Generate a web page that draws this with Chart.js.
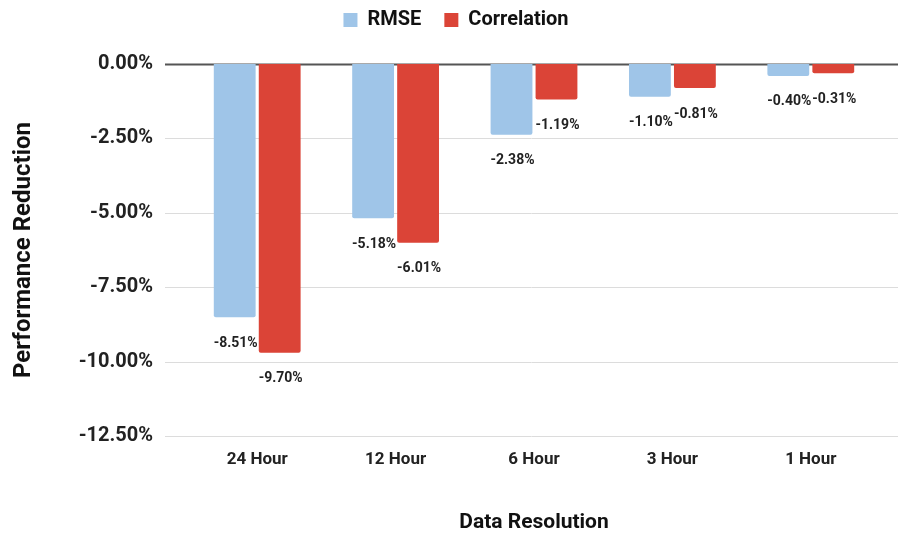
<!DOCTYPE html>
<html>
<head>
<meta charset="utf-8">
<script src="https://cdn.jsdelivr.net/npm/chart.js@4"></script>
<style>
  html, body { margin: 0; padding: 0; background: #fff; }
  #wrap { width: 902px; height: 535px; }
</style>
</head>
<body>
<div id="wrap"><canvas id="myChart"></canvas></div>
<script>
const categories = ["24 Hour", "12 Hour", "6 Hour", "3 Hour", "1 Hour"];
const rmseValues = [-8.51, -5.18, -2.38, -1.10, -0.40];
const corrValues = [-9.70, -6.01, -1.19, -0.81, -0.31];
const yTicks = [0, -2.5, -5, -7.5, -10, -12.5];

Chart.defaults.font.family = "Roboto";
Chart.defaults.color = "#222";

// make room under the legend and nudge it to where the original has it
const legendPlugin = {
  id: "legendSpace",
  beforeInit(chart) {
    const fit = chart.legend.fit;
    chart.legend.fit = function () {
      fit.call(this);
      this.height += 11;
    };
  },
  afterLayout(chart) {
    const lg = chart.legend;
    lg.top -= 13;
    lg.left += 13;
    lg.right += 13;
  },
};

// gridlines span wider than the plot area in the original
const gridPlugin = {
  id: "grid",
  beforeDatasetsDraw(chart) {
    const ctx = chart.ctx;
    const y = chart.scales.y;
    ctx.save();
    yTicks.forEach((v) => {
      const py = Math.round(y.getPixelForValue(v)) + 0.5;
      ctx.beginPath();
      ctx.strokeStyle = v === 0 ? "#555" : "#dcdcdc";
      ctx.lineWidth = v === 0 ? 2 : 1;
      ctx.moveTo(165, py);
      ctx.lineTo(898, py);
      ctx.stroke();
    });
    ctx.restore();
  },
};

// value labels under each bar end
const labelPlugin = {
  id: "barLabels",
  afterDatasetsDraw(chart) {
    const ctx = chart.ctx;
    ctx.save();
    ctx.font = "bold 14px Roboto";
    ctx.fillStyle = "#222";
    ctx.textAlign = "center";
    ctx.textBaseline = "middle";
    chart.data.datasets.forEach((ds, i) => {
      chart.getDatasetMeta(i).data.forEach((bar, j) => {
        ctx.fillText(ds.data[j].toFixed(2) + "%", bar.x + 1, bar.y + 26);
      });
    });
    ctx.restore();
  },
};

new Chart(document.getElementById("myChart"), {
  type: "bar",
  data: {
    labels: categories,
    datasets: [
      {
        label: "RMSE",
        data: rmseValues,
        backgroundColor: "#9fc5e8",
        borderRadius: 2,
        borderSkipped: "start",
      },
      {
        label: "Correlation",
        data: corrValues,
        backgroundColor: "#db4437",
        borderRadius: 2,
        borderSkipped: "start",
      },
    ],
  },
  options: {
    responsive: true,
    maintainAspectRatio: false,
    animation: false,
    categoryPercentage: 0.65,
    barPercentage: 0.93,
    layout: { padding: { left: 6, right: 22, top: 0, bottom: 0 } },
    plugins: {
      legend: {
        position: "top",
        labels: {
          boxWidth: 14,
          boxHeight: 14,
          padding: 23,
          font: { size: 20, weight: "bold" },
          color: "#111",
        },
      },
      tooltip: { enabled: false },
    },
    scales: {
      x: {
        grid: { display: false, drawTicks: false },
        border: { display: false },
        ticks: { padding: 14, font: { size: 17, weight: "bold" }, color: "#222" },
        title: {
          display: true,
          text: "Data Resolution",
          font: { size: 21, weight: "bold" },
          color: "#111",
          padding: { top: 0, bottom: 0 },
        },
        afterFit(scale) { scale.height = 99; },
      },
      y: {
        min: -12.5,
        max: 0,
        grid: { display: false, drawTicks: false },
        border: { display: false },
        ticks: {
          stepSize: 2.5,
          padding: 35,
          font: { size: 20, weight: "bold" },
          color: "#222",
          callback: (v) => v.toFixed(2) + "%",
        },
        title: {
          display: true,
          text: "Performance Reduction",
          font: { size: 24, weight: "bold" },
          color: "#111",
        },
        afterFit(scale) { scale.width = 182; },
      },
    },
  },
  plugins: [legendPlugin, gridPlugin, labelPlugin],
});
</script>
</body>
</html>
